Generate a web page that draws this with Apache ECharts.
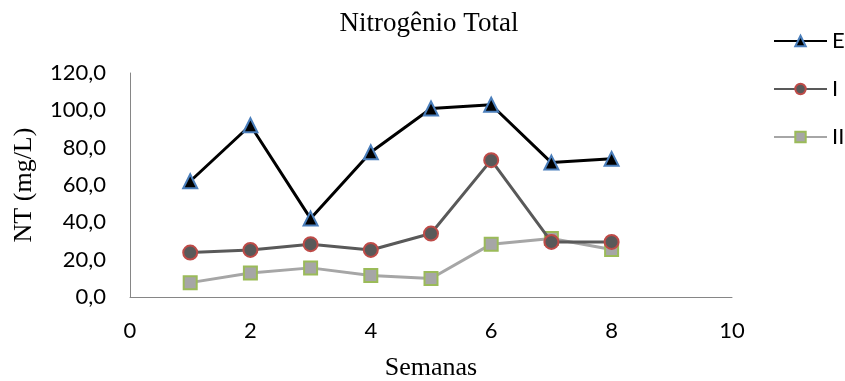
<!DOCTYPE html>
<html>
<head>
<meta charset="utf-8">
<script src="https://cdn.jsdelivr.net/npm/echarts@6/dist/echarts.min.js"></script>
<style>
  html, body { margin: 0; padding: 0; background: #fff; }
  #chart { width: 845px; height: 381px; }
</style>
</head>
<body>
<div id="chart"></div>
<script>
// Weekly total nitrogen (mg/L) for three sampling points
const weeks = [1, 2, 3, 4, 5, 6, 7, 8];
const seriesNames = ['E', 'I', 'II'];
const valuesE = [62.0, 92.0, 42.0, 77.5, 101.0, 103.0, 72.0, 74.0];
const valuesI = [23.8, 25.2, 28.3, 25.2, 34.0, 73.3, 29.5, 29.5];
const valuesII = [7.7, 12.9, 15.6, 11.5, 9.9, 28.3, 31.3, 25.4];
const yTicks = [0, 20, 40, 60, 80, 100, 120];
const xTicks = [0, 2, 4, 6, 8, 10];

const pairs = vals => weeks.map((w, i) => [w, vals[i]]);

const labelFont = 'Lato, "Open Sans", sans-serif';
const serifFont = '"Liberation Serif", "DejaVu Serif", serif';

const styles = [
  { line: '#000000', fill: '#000000', border: '#4a7ebb', symbol: 'triangle', size: 14 },
  { line: '#595959', fill: '#595959', border: '#be4b48', symbol: 'circle', size: 14 },
  { line: '#a6a6a6', fill: '#a6a6a6', border: '#9bbb59', symbol: 'rect', size: 13 }
];
const allValues = [valuesE, valuesI, valuesII];

const chart = echarts.init(document.getElementById('chart'));
chart.setOption({
  animation: false,
  title: {
    text: 'Nitrogênio Total',
    left: 424,
    textAlign: 'center',
    top: 5,
    textStyle: { fontFamily: serifFont, fontSize: 27, fontWeight: 'normal', color: '#000' }
  },
  legend: {
    orient: 'vertical',
    left: 768,
    top: 25,
    itemWidth: 53,
    itemHeight: 13,
    itemGap: 26,
    textStyle: { fontFamily: labelFont, fontSize: 22, lineHeight: 22, color: '#000', padding: [0, 0, 0, 0] },
    data: seriesNames
  },
  grid: { left: 130, right: 113, top: 73, bottom: 84, outerBoundsMode: 'none', containLabel: false },
  xAxis: {
    type: 'value',
    min: xTicks[0],
    max: xTicks[xTicks.length - 1],
    interval: 2,
    name: 'Semanas',
    nameLocation: 'middle',
    nameGap: 58,
    nameTextStyle: { fontFamily: serifFont, fontSize: 26, color: '#000' },
    axisLine: { show: true, lineStyle: { color: '#868686', width: 1 } },
    axisTick: { show: false },
    splitLine: { show: false },
    axisLabel: { margin: 23, fontFamily: labelFont, fontSize: 22, color: '#000' }
  },
  yAxis: {
    type: 'value',
    min: yTicks[0],
    max: yTicks[yTicks.length - 1],
    interval: 20,
    name: 'NT (mg/L)',
    nameLocation: 'middle',
    nameGap: 93,
    nameTextStyle: { fontFamily: serifFont, fontSize: 26, color: '#000' },
    axisLine: { show: true, lineStyle: { color: '#868686', width: 1 } },
    axisTick: { show: false },
    splitLine: { show: false },
    axisLabel: {
      margin: 24,
      fontFamily: labelFont,
      fontSize: 22,
      color: '#000',
      formatter: v => v.toFixed(1).replace('.', ',')
    }
  },
  series: seriesNames.map((name, i) => ({
    name,
    type: 'line',
    data: pairs(allValues[i]),
    symbol: styles[i].symbol,
    symbolSize: styles[i].size,
    showAllSymbol: true,
    lineStyle: { color: styles[i].line, width: 3 },
    itemStyle: { color: styles[i].fill, borderColor: styles[i].border, borderWidth: 2 },
    z: 3 - i
  }))
});
</script>
</body>
</html>
